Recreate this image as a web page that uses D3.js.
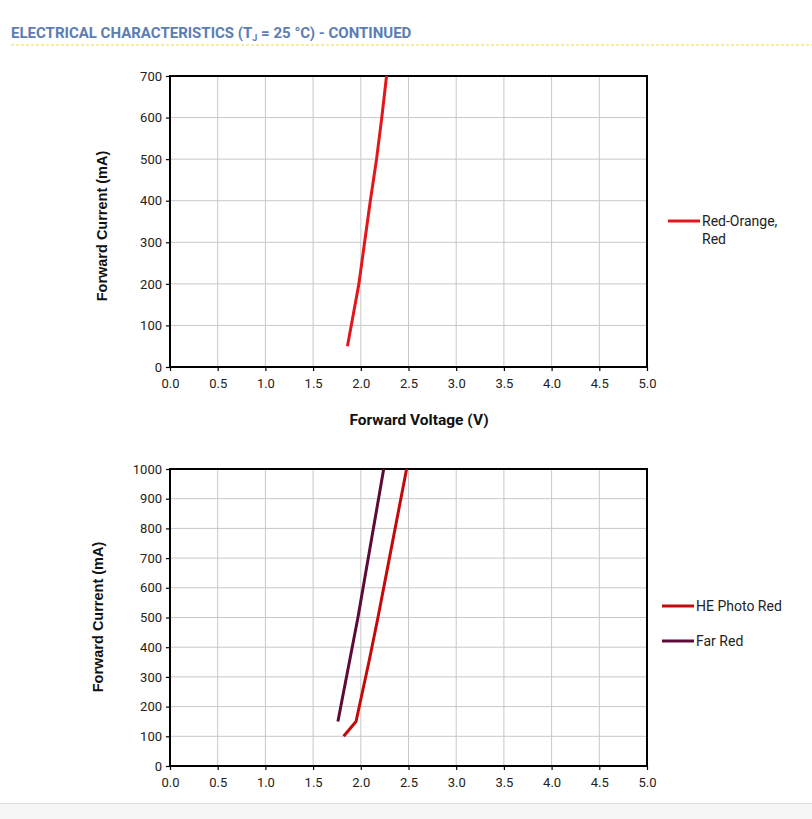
<!DOCTYPE html>
<html><head><meta charset="utf-8">
<script src="https://cdn.jsdelivr.net/npm/d3@7"></script>
<style>
body{margin:0;background:#fff;}
svg{display:block;}
</style></head>
<body>
<svg id="c" width="812" height="819"></svg>
<script>
// ---- data ----
const xTicks = [0,0.5,1,1.5,2,2.5,3,3.5,4,4.5,5];
const yTicksTop = [0,100,200,300,400,500,600,700];
const yTicksBottom = [0,100,200,300,400,500,600,700,800,900,1000];
const redOrangeV = [1.86,1.90,1.98,2.04,2.10,2.165,2.22,2.27];
const redOrangeI = [50,100,200,300,400,500,600,700];
const hePhotoRedV = [1.82,1.95,2.085,2.18,2.30,2.39,2.48];
const hePhotoRedI = [100,150,350,500,700,850,1000];
const farRedV = [1.76,1.97,2.24];
const farRedI = [150,500,1000];

const svg = d3.select("#c");
const tickFont = "Roboto, 'Liberation Sans', sans-serif";

// header
const ht = svg.append("text").attr("x",11).attr("y",38)
  .attr("font-family","Roboto, sans-serif").attr("font-weight","bold")
  .attr("font-size",15).attr("fill","#5b7db4");
ht.append("tspan").text("ELECTRICAL CHARACTERISTICS (T");
ht.append("tspan").attr("font-size",9).attr("dy",3).text("J");
ht.append("tspan").attr("dy",-3).text(" = 25 °C) - CONTINUED");
svg.append("line").attr("x1",11).attr("x2",812).attr("y1",45).attr("y2",45)
  .attr("stroke","#e8d94a").attr("stroke-width",1).attr("stroke-dasharray","3,2");

// footer band
svg.append("rect").attr("x",0).attr("y",803).attr("width",812).attr("height",16).attr("fill","#f6f6f6");
svg.append("line").attr("x1",0).attr("x2",812).attr("y1",803.5).attr("y2",803.5).attr("stroke","#dedede");

function chart(cfg){
  const x = d3.scaleLinear().domain([0,5]).range([170,647]);
  const y = d3.scaleLinear().domain([0,cfg.ymax]).range([cfg.y0,cfg.y1]);
  const g = svg.append("g");
  // grid
  g.selectAll(".vg").data(xTicks.slice(1,-1)).join("line")
    .attr("x1",d=>x(d)).attr("x2",d=>x(d)).attr("y1",cfg.y1).attr("y2",cfg.y0)
    .attr("stroke","#c8c8c8").attr("stroke-width",1);
  g.selectAll(".hg").data(cfg.yticks.slice(1,-1)).join("line")
    .attr("x1",170).attr("x2",647).attr("y1",d=>y(d)).attr("y2",d=>y(d))
    .attr("stroke","#c8c8c8").attr("stroke-width",1);
  // axes
  const xa = g.append("g").attr("transform",`translate(0,${cfg.y0})`)
    .call(d3.axisBottom(x).tickValues(xTicks).tickFormat(d3.format(".1f")).tickSize(4).tickSizeOuter(0));
  const ya = g.append("g").attr("transform","translate(170,0)")
    .call(d3.axisLeft(y).tickValues(cfg.yticks).tickFormat(d3.format("d")).tickSize(4).tickSizeOuter(0));
  [xa,ya].forEach(a=>{
    a.select(".domain").remove();
    a.attr("font-size",null).attr("font-family",null);
    a.selectAll("line").attr("stroke","#000").attr("stroke-width",1.2);
    a.selectAll("text").attr("font-family",tickFont).attr("font-size",13).attr("fill","#222");
  });
  xa.selectAll("text").attr("dy","1.05em");
  ya.selectAll("text").attr("x",-8);
  // box
  g.append("rect").attr("x",170).attr("y",cfg.y1).attr("width",477).attr("height",cfg.y0-cfg.y1)
    .attr("fill","none").attr("stroke","#000").attr("stroke-width",2);
  // lines
  const line = d3.line().x(d=>x(d[0])).y(d=>y(d[1]));
  cfg.series.forEach(s=>{
    const pts = s.v.map((v,i)=>[v,s.i[i]]);
    g.append("path").attr("d",line(pts)).attr("fill","none")
      .attr("stroke",s.color).attr("stroke-width",3).attr("stroke-linejoin","round");
  });
  // y title
  g.append("text").attr("transform",`translate(${cfg.ytx},${cfg.yty}) rotate(-90)`)
    .attr("text-anchor","middle").attr("font-family","'Liberation Sans', Arial, sans-serif")
    .attr("font-weight","bold").attr("font-size",14.5).attr("fill","#111")
    .text("Forward Current (mA)");
  // legend
  cfg.series.forEach((s,k)=>{
    const ly = cfg.legY[k];
    g.append("line").attr("x1",cfg.legX).attr("x2",cfg.legX+32).attr("y1",ly).attr("y2",ly)
      .attr("stroke",s.color).attr("stroke-width",3);
    const t = g.append("text").attr("x",cfg.legX+34).attr("y",ly+5)
      .attr("font-family",tickFont).attr("font-size",14).attr("fill","#222");
    s.name.forEach((n,j)=>t.append("tspan").attr("x",cfg.legX+34).attr("dy",j?18:0).text(n));
  });
  return x;
}

chart({ymax:700,y0:367,y1:76,yticks:yTicksTop,ytx:107,yty:226,legX:668,legY:[221],
  series:[{v:redOrangeV,i:redOrangeI,color:"#e3161b",name:["Red-Orange,","Red"]}]});
svg.append("text").attr("x",419).attr("y",425).attr("text-anchor","middle")
  .attr("font-family","Roboto, sans-serif").attr("font-weight","bold").attr("font-size",15.5).attr("fill","#111")
  .text("Forward Voltage (V)");
chart({ymax:1000,y0:766,y1:469,yticks:yTicksBottom,ytx:103,yty:617,legX:662,legY:[606,641],
  series:[{v:hePhotoRedV,i:hePhotoRedI,color:"#c40a0a",name:["HE Photo Red"]},
          {v:farRedV,i:farRedI,color:"#5c0a38",name:["Far Red"]}]});
</script>
</body></html>
